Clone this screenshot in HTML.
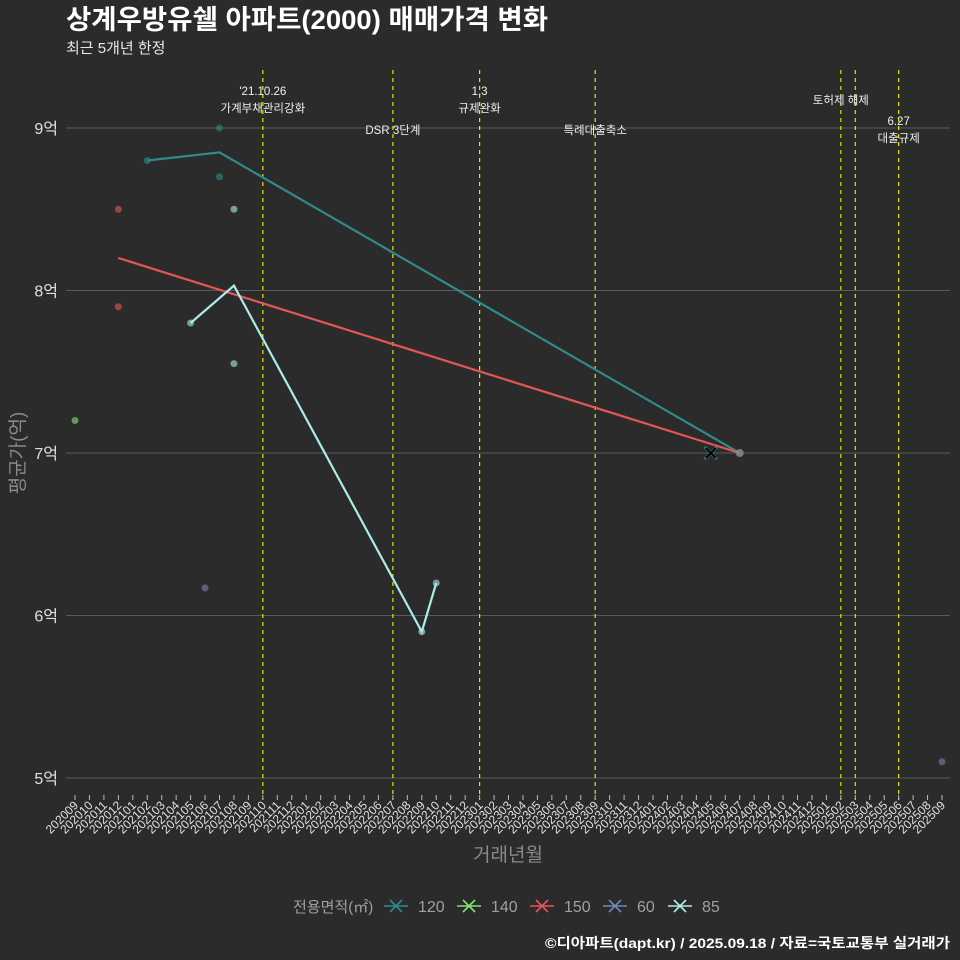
<!DOCTYPE html>
<html><head><meta charset="utf-8"><style>
html,body{margin:0;padding:0;background:#2b2b2b;}
svg{display:block;font-family:"Liberation Sans","Noto Sans CJK KR",sans-serif;}
</style></head><body>
<svg id="chart" width="960" height="960" viewBox="0 0 960 960" xmlns="http://www.w3.org/2000/svg">
<rect width="960" height="960" fill="#2b2b2b"/>
<text x="66" y="29" font-size="27" font-weight="bold" fill="#ffffff" textLength="482" lengthAdjust="spacingAndGlyphs">상계우방유쉘 아파트(2000) 매매가격 변화</text>
<text x="66" y="53" font-size="15" fill="#e8e8e8">최근 5개년 한정</text>
<g id="grid"></g><g id="vlines"></g><g id="series"></g><g id="axes"></g>
<text x="24" y="453" font-size="19" fill="#8a8a8a" text-anchor="middle" transform="rotate(-90 24 453)">평균가(억)</text>
<text x="508" y="861" font-size="19" fill="#8a8a8a" text-anchor="middle">거래년월</text>
<g id="legend"></g>
<text x="950" y="948" font-size="14" font-weight="bold" fill="#ffffff" text-anchor="end" textLength="405" lengthAdjust="spacingAndGlyphs">©디아파트(dapt.kr) / 2025.09.18 / 자료=국토교통부 실거래가</text>
</svg>
<script>
const yTicks=[5,6,7,8,9];
const yTickLabels=["5억","6억","7억","8억","9억"];
const startYear=2020,startMonth=9,monthCount=61;
const eventMonths=["202110","202207","202301","202309","202502","202503","202506"];
const eventLabels=[["'21.10.26","가계부채관리강화"],["DSR 3단계"],["1.3","규제완화"],["특례대출축소"],["토허제 해제"],[],["6.27","대출규제"]];
const eventLabelY=[90,129,90,129,99,0,120];
const seriesNames=["120","140","150","60","85"];
const seriesColors=["#2e8b88","#86e26e","#e35656","#7384b6","#a9ece8"];
const lineMonths=[["202102","202107","202407"],[],["202012","202407"],[],["202105","202108","202209","202210"]];
const lineValues=[[8.8,8.85,7.0],[],[8.2,7.0],[],[7.8,8.03,5.9,6.2]];
const dotMonths=[["202102","202107","202107"],["202009"],["202012","202012"],["202106","202509"],["202105","202108","202108","202209","202210"]];
const dotValues=[[8.8,9.0,8.7],[7.2],[8.5,7.9],[6.17,5.1],[7.8,8.5,7.55,5.9,6.2]];
const greyDotMonths=["202407"];const greyDotValues=[7.0];
const crossMonths=["202405"];const crossValues=[7.0];

const NS="http://www.w3.org/2000/svg";
function mk(tag,attrs,parent){const e=document.createElementNS(NS,tag);for(const k in attrs)e.setAttribute(k,attrs[k]);parent.appendChild(e);return e;}
const months=[];for(let i=0;i<monthCount;i++){let m=startMonth+i,y=startYear+Math.floor((m-1)/12);m=((m-1)%12)+1;months.push(""+y+(m<10?"0":"")+m);}
function x(ym){return 75+14.45*months.indexOf(ym);}
function y(v){return 778-(v-5)*162.5;}
const grid=document.getElementById("grid"),axes=document.getElementById("axes");
yTicks.forEach((t,i)=>{
 const l=mk("line",{x1:66,x2:950,y1:y(t),y2:y(t),stroke:"#5a5a5a","stroke-width":1},grid);
 
 
 const tx=mk("text",{x:58,y:y(t)+6,"font-size":16,fill:"#e0e0e0","text-anchor":"end"},axes);
 tx.textContent=yTickLabels[i];
 
 
});
months.forEach(m=>{
 const t=mk("line",{x1:x(m),x2:x(m),y1:795,y2:800,stroke:"#bbbbbb","stroke-width":1},axes);
 
 
 const tx=mk("text",{x:x(m)+4,y:806,"font-size":12,fill:"#e0e0e0","text-anchor":"end",transform:`rotate(-45 ${x(m)+4} 806)`},axes);
 tx.textContent=m;
 
 
});
const vl=document.getElementById("vlines");
eventMonths.forEach((m,i)=>{
 const l=mk("line",{x1:x(m),x2:x(m),y1:70,y2:800,stroke:"#e6e600","stroke-width":1.2,"stroke-dasharray":"4 4"},vl);
 
 
 eventLabels[i].forEach((s,j)=>{
  const t=mk("text",{x:x(m),y:eventLabelY[i]+j*17+5,"font-size":11.5,fill:"#f0f0f0","text-anchor":"middle"},vl);
  t.textContent=s;
  
  
 });
});
const sg=document.getElementById("series");
seriesNames.forEach((n,si)=>{
 dotMonths[si].forEach((m,k)=>{
  const c=mk("circle",{cx:x(m),cy:y(dotValues[si][k]),r:3.5,fill:seriesColors[si],"fill-opacity":0.6},sg);
  
  
 });
});
seriesNames.forEach((n,si)=>{
 if(!lineMonths[si].length)return;
 const pts=lineMonths[si].map((m,k)=>x(m)+","+y(lineValues[si][k])).join(" ");
 const p=mk("polyline",{points:pts,fill:"none",stroke:seriesColors[si],"stroke-width":2.2},sg);
 
 
});
greyDotMonths.forEach((m,k)=>{
 const c=mk("circle",{cx:x(m),cy:y(greyDotValues[k]),r:4,fill:"#8a8a8a","fill-opacity":0.85},sg);
 
 
});
crossMonths.forEach((m,k)=>{
 const cx=x(m),cy=y(crossValues[k]);
 const g=mk("g",{},sg);
 
 
 mk("path",{d:`M${cx-6} ${cy-6}L${cx+6} ${cy+6}M${cx-6} ${cy+6}L${cx+6} ${cy-6}`,stroke:"#2e8b88","stroke-width":3},g);
 mk("path",{d:`M${cx-5} ${cy-5}L${cx+5} ${cy+5}M${cx-5} ${cy+5}L${cx+5} ${cy-5}`,stroke:"#000","stroke-width":2},g);
});
const lg=document.getElementById("legend");
const lt=mk("text",{x:293,y:912,"font-size":15,fill:"#a0a0a0"},lg);
lt.textContent="전용면적(㎡)";


const legX=[385,458,531,604,669];
seriesNames.forEach((n,i)=>{
 const g=mk("g",{},lg);
 
 
 const cx=legX[i]+11,cy=906;
 mk("path",{d:`M${cx-12} ${cy}H${cx+12}M${cx-6} ${cy-6}L${cx+6} ${cy+6}M${cx-6} ${cy+6}L${cx+6} ${cy-6}`,stroke:seriesColors[i],"stroke-width":1.6},g);
 const t=mk("text",{x:legX[i]+33,y:912,"font-size":16,fill:"#a0a0a0"},g);
 t.textContent=n;
});
</script>
</body></html>
